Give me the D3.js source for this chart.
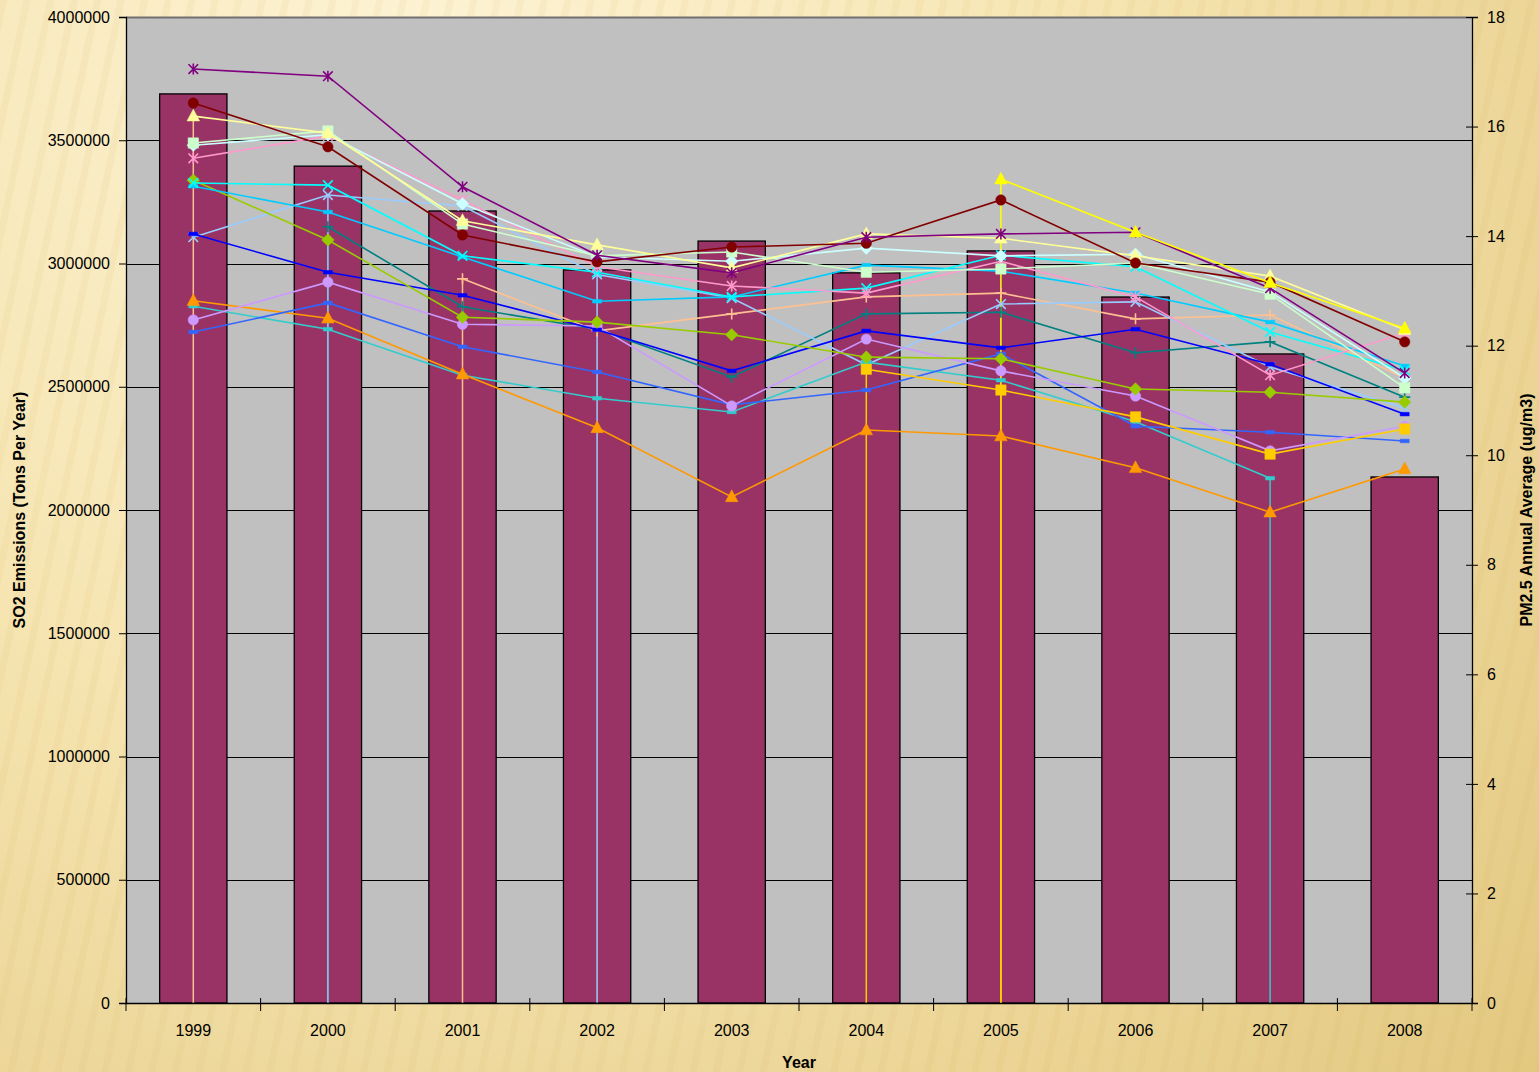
<!DOCTYPE html>
<html lang="en">
<head>
    <meta charset="UTF-8">
    <title>SO2 and PM2.5</title>
    <script src="https://d3js.org/d3.v7.min.js"></script>
    <style>
        body { margin: 0; }
        text { font-family: "Liberation Sans", Arial, sans-serif; fill: #000; }
        .axis text { font-size: 16px; }
        .axis path, .axis line { stroke: #000; }
        .title { font-size: 16px; font-weight: bold; }
    </style>
</head>
<body>
<script>

    var width = 1539,
        height = 1072;

    // categories and bar values (left axis)
    var years = ["1999", "2000", "2001", "2002", "2003", "2004", "2005", "2006", "2007", "2008"];
    var so2Tons = [3688000, 3395000, 3213000, 2974000, 3091000, 2962000, 3051000, 2864000, 2633000, 2134000];

    // PM2.5 annual averages (right axis), one array per site
    var siteA = [17.05, 16.92, 14.90, 13.65, 13.33, 13.98, 14.04, 14.07, 13.05, 11.50];
    var siteB = [16.43, 15.63, 14.02, 13.53, 13.80, 13.87, 14.66, 13.51, 13.16, 12.07];
    var siteC = [16.19, 15.88, 14.28, 13.84, 13.42, 14.04, 13.96, 13.64, 13.27, 12.29];
    var siteD = [15.70, 15.92, 14.22, 13.64, 13.71, 13.34, 13.40, 13.51, 12.94, 11.23];
    var siteE = [15.66, 15.85, 14.59, 13.62, 13.54, 13.78, 13.64, 13.67, 12.98, 11.41];
    var siteF = [15.42, 15.83, 14.66, 13.44, 13.09, 12.96, 13.54, 12.89, 11.46, 12.23];
    var siteG = [14.97, 14.93, 13.64, 13.34, 12.89, 13.05, 13.65, 13.44, 12.25, 11.55];
    var siteH = [14.91, 14.44, 13.62, 12.81, 12.89, 13.47, 13.36, 12.96, 12.43, 11.63];
    var siteI = [13.98, 14.75, 14.55, 13.30, 12.87, 11.65, 12.76, 12.80, 11.61, 10.86];
    var siteJ = [null, null, 13.22, 12.27, 12.58, 12.89, 12.96, 12.49, 12.56, 11.41];
    var siteK = [null, 14.17, 12.71, 12.30, 11.43, 12.58, 12.61, 11.87, 12.07, 11.06];
    var siteL = [15.02, 13.93, 12.52, 12.43, 12.20, 11.79, 11.76, 11.21, 11.15, 10.97];
    var siteM = [14.04, 13.34, 12.92, 12.29, 11.54, 12.27, 11.96, 12.30, 11.66, 10.75];
    var siteN = [12.47, 13.16, 12.39, 12.36, 10.90, 12.12, 11.54, 11.08, 10.08, 10.53];
    var siteO = [12.25, 12.78, 11.98, 11.52, 10.92, 11.19, 11.85, 10.53, 10.42, 10.26];
    var siteP = [12.72, 12.30, 11.46, 11.04, 10.79, 11.70, 11.37, 10.61, 9.58, null];
    var siteQ = [12.82, 12.50, 11.48, 10.50, 9.24, 10.46, 10.35, 9.77, 8.96, 9.75];
    var siteR = [null, null, null, null, null, 11.57, 11.19, 10.70, 10.02, 10.48];
    var siteS = [null, null, null, null, null, null, 15.04, 14.07, 13.15, 12.32];

    var pmSeries = [siteK, siteJ, siteI, siteP, siteQ, siteO, siteN, siteM, siteL, siteR,
                    siteH, siteG, siteF, siteE, siteD, siteC, siteB, siteA, siteS];

    // vertical drop lines to zero seen in the chart
    var dropYears = ["1999", "2000", "2000", "2001", "2002", "2004", "2005", "2005", "2007"];
    var dropTops = [16.19, 14.17, 14.75, 13.22, 13.30, 11.57, 15.04, 11.19, 9.58];
    var dropSeries = [1, 0, 2, 1, 2, 9, 18, 9, 3];

    var leftTicks = [0, 500000, 1000000, 1500000, 2000000, 2500000, 3000000, 3500000, 4000000];
    var rightTicks = [0, 2, 4, 6, 8, 10, 12, 14, 16, 18];

    // styles, same order as pmSeries
    var seriesColors = ["#008080", "#FFC090", "#99CCFF", "#33CCCC", "#FF9900", "#3366FF", "#CC99FF", "#0000FF", "#99CC00", "#FFCC00",
                        "#00CCFF", "#00FFFF", "#FF99CC", "#CCFFFF", "#CCFFCC", "#FFFF99", "#800000", "#800080", "#FFFF00"];
    var seriesMarkers = ["plus", "plus", "x", "dash", "triangle", "dash", "circle", "dash", "diamond", "square",
                         "dash", "x", "star", "diamond", "square", "triangle", "circle", "star", "triangle"];

    var markerShapes = {
        circle: "M-5.2,0A5.2,5.2 0 1,0 5.2,0A5.2,5.2 0 1,0 -5.2,0Z",
        square: "M-5.2,-5.2H5.2V5.2H-5.2Z",
        diamond: "M0,-6.3L6.3,0L0,6.3L-6.3,0Z",
        triangle: "M0,-7L6.3,4.8H-6.3Z",
        dash: "M-4.5,-1.8H4.5V1.8H-4.5Z",
        x: "M-4.8,-4.8L4.8,4.8M-4.8,4.8L4.8,-4.8",
        plus: "M-5.5,0H5.5M0,-5.5V5.5",
        star: "M-4.8,-4.8L4.8,4.8M-4.8,4.8L4.8,-4.8M0,-5.5V5.5"
    };
    var filledMarkers = { circle: 1, square: 1, diamond: 1, triangle: 1, dash: 1 };

    var margin = { top: 17, right: 67, bottom: 69, left: 126 };
    var plotW = width - margin.left - margin.right,
        plotH = height - margin.top - margin.bottom;

    var svg = d3.select("body").append("svg")
        .attr("width", width)
        .attr("height", height);

    // background
    var defs = svg.append("defs");
    var grad = defs.append("radialGradient")
        .attr("id", "bg")
        .attr("gradientUnits", "userSpaceOnUse")
        .attr("cx", 420).attr("cy", 60).attr("r", 1500);
    grad.append("stop").attr("offset", "0").attr("stop-color", "#FDF3D4");
    grad.append("stop").attr("offset", "0.45").attr("stop-color", "#F6E5B2");
    grad.append("stop").attr("offset", "1").attr("stop-color", "#E3C880");

    var stripes = defs.append("pattern")
        .attr("id", "streaks")
        .attr("patternUnits", "userSpaceOnUse")
        .attr("width", 23).attr("height", 60)
        .attr("patternTransform", "rotate(12)");
    stripes.append("rect").attr("width", 7).attr("height", 60)
        .attr("fill", "#C9A850").attr("opacity", 0.08);

    svg.append("rect").attr("width", width).attr("height", height).attr("fill", "url(#bg)");
    svg.append("rect").attr("width", width).attr("height", height).attr("fill", "url(#streaks)");

    var g = svg.append("g")
        .attr("transform", "translate(" + margin.left + "," + margin.top + ")");

    var x = d3.scaleBand()
        .domain(years)
        .range([0, plotW])
        .paddingInner(0.5)
        .paddingOuter(0.25);

    var yLeft = d3.scaleLinear().domain([0, 4000000]).range([plotH, 0]);
    var yRight = d3.scaleLinear().domain([0, 18]).range([plotH, 0]);

    function cx(year) { return x(year) + x.bandwidth() / 2; }

    // plot area
    g.append("rect")
        .attr("width", plotW)
        .attr("height", plotH)
        .attr("fill", "#C0C0C0");

    g.selectAll(".grid")
        .data(leftTicks.slice(1, -1))
        .enter().append("line")
        .attr("class", "grid")
        .attr("x1", 0).attr("x2", plotW)
        .attr("y1", function(d) { return Math.round(yLeft(d)) + 0.5; })
        .attr("y2", function(d) { return Math.round(yLeft(d)) + 0.5; })
        .attr("stroke", "#000")
        .attr("stroke-width", 1.2);

    g.append("line")
        .attr("x1", 0).attr("x2", plotW)
        .attr("y1", 0.5).attr("y2", 0.5)
        .attr("stroke", "#707070").attr("stroke-width", 2);

    // bars
    g.selectAll(".bar")
        .data(years)
        .enter().append("rect")
        .attr("class", "bar")
        .attr("x", function(d) { return x(d); })
        .attr("width", x.bandwidth())
        .attr("y", function(d, i) { return yLeft(so2Tons[i]); })
        .attr("height", function(d, i) { return plotH - yLeft(so2Tons[i]); })
        .attr("fill", "#993366")
        .attr("stroke", "#000")
        .attr("stroke-width", 1.3);

    // drop lines
    g.selectAll(".drop")
        .data(dropYears)
        .enter().append("line")
        .attr("class", "drop")
        .attr("x1", function(d) { return cx(d); })
        .attr("x2", function(d) { return cx(d); })
        .attr("y1", function(d, i) { return yRight(dropTops[i]); })
        .attr("y2", yRight(0))
        .attr("stroke", function(d, i) { return seriesColors[dropSeries[i]]; })
        .attr("stroke-width", 1.5);

    // lines
    var line = d3.line()
        .defined(function(d) { return d != null; })
        .x(function(d, i) { return cx(years[i]); })
        .y(function(d) { return yRight(d); });

    pmSeries.forEach(function(values, s) {
        var color = seriesColors[s],
            shape = seriesMarkers[s];

        g.append("path")
            .datum(values)
            .attr("fill", "none")
            .attr("stroke", color)
            .attr("stroke-width", 1.6)
            .attr("d", line);

        g.selectAll(".m" + s)
            .data(values.map(function(v, i) { return { v: v, year: years[i] }; })
                .filter(function(d) { return d.v != null; }))
            .enter().append("path")
            .attr("class", "m" + s)
            .attr("transform", function(d) { return "translate(" + cx(d.year) + "," + yRight(d.v) + ")"; })
            .attr("d", markerShapes[shape])
            .attr("fill", filledMarkers[shape] ? color : "none")
            .attr("stroke", color)
            .attr("stroke-width", filledMarkers[shape] ? 0.5 : 1.6);
    });

    // axes
    var leftAxis = g.append("g")
        .attr("class", "axis")
        .call(d3.axisLeft(yLeft)
            .tickValues(leftTicks)
            .tickFormat(d3.format("d"))
            .tickSize(7)
            .tickPadding(9));

    var rightAxis = g.append("g")
        .attr("class", "axis")
        .attr("transform", "translate(" + plotW + ",0)")
        .call(d3.axisRight(yRight)
            .tickValues(rightTicks)
            .tickSize(6)
            .tickPadding(9));
    rightAxis.selectAll(".tick line").attr("x1", -6);

    var xAxis = g.append("g")
        .attr("class", "axis")
        .attr("transform", "translate(0," + plotH + ")")
        .call(d3.axisBottom(x).tickSize(0).tickPadding(22));
    xAxis.selectAll(".tick line").remove();

    var step = x.step();
    xAxis.selectAll(".sep")
        .data(d3.range(years.length + 1))
        .enter().append("line")
        .attr("class", "sep")
        .attr("x1", function(d) { return d * step; })
        .attr("x2", function(d) { return d * step; })
        .attr("y1", -5).attr("y2", 8)
        .attr("stroke", "#000");

    [leftAxis, rightAxis, xAxis].forEach(function(a) {
        a.select(".domain").attr("stroke-width", 1.3);
    });

    // titles
    svg.append("text")
        .attr("class", "title")
        .attr("x", 799).attr("y", 1068)
        .attr("text-anchor", "middle")
        .text("Year");

    svg.append("text")
        .attr("class", "title")
        .attr("transform", "translate(25,510) rotate(-90)")
        .attr("text-anchor", "middle")
        .text("SO2 Emissions (Tons Per Year)");

    svg.append("text")
        .attr("class", "title")
        .attr("transform", "translate(1532,510) rotate(-90)")
        .attr("text-anchor", "middle")
        .text("PM2.5 Annual Average (ug/m3)");

</script>
</body>
</html>
